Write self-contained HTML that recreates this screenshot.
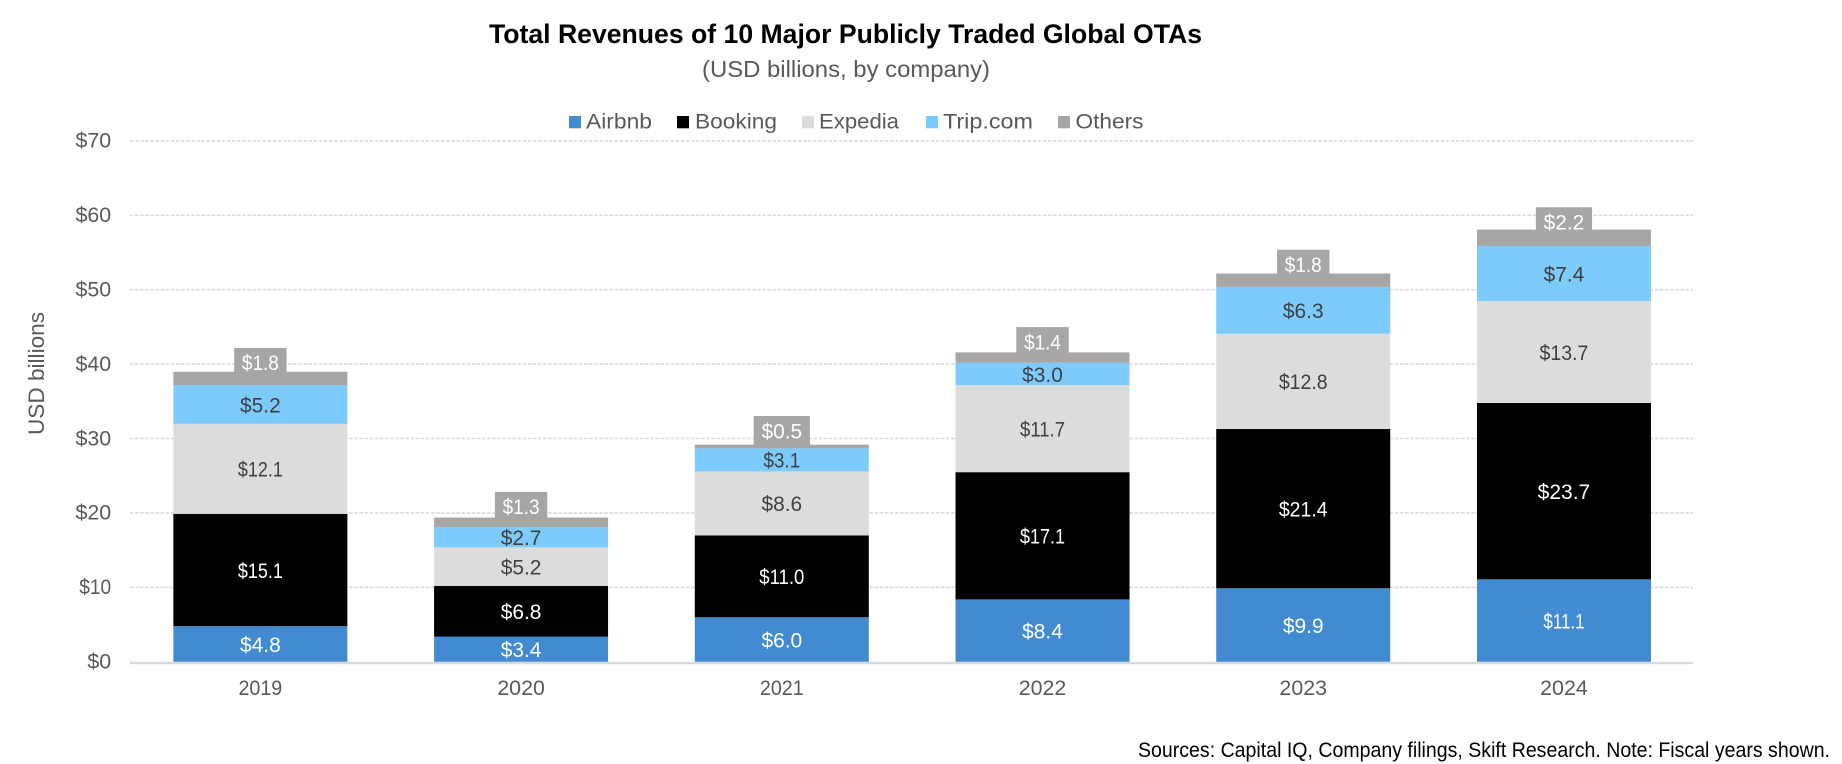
<!DOCTYPE html>
<html lang="en">
<head>
<meta charset="utf-8">
<title>Total Revenues of 10 Major Publicly Traded Global OTAs</title>
<style>
html,body{margin:0;padding:0;background:#fff;}
body{width:1842px;height:764px;overflow:hidden;}
svg{display:block;font-family:"Liberation Sans",sans-serif;}
</style>
</head>
<body>
<svg id="chart" width="1842" height="764" viewBox="0 0 1842 764" xmlns="http://www.w3.org/2000/svg">
  <rect x="0" y="0" width="1842" height="764" fill="#ffffff"/>
  <text x="489" y="43" font-size="27" font-weight="bold" fill="#000" textLength="713" lengthAdjust="spacingAndGlyphs">Total Revenues of 10 Major Publicly Traded Global OTAs</text>
  <text x="702" y="77" font-size="23" fill="#595959" textLength="288" lengthAdjust="spacingAndGlyphs">(USD billions, by company)</text>
  <text transform="translate(44,373.5) rotate(-90)" text-anchor="middle" font-size="22" fill="#595959" textLength="123" lengthAdjust="spacingAndGlyphs">USD billions</text>
  <g id="gridlines"></g>
  <g id="y-ticks"></g>
  <g id="bars"></g>
  <rect id="x-axis" x="130" y="661.8" width="1563" height="2.4" fill="#d9d9d9"/>
  <g id="x-ticks"></g>
  <g id="legend"></g>
  <text x="1138" y="757" font-size="21" fill="#000" textLength="692" lengthAdjust="spacingAndGlyphs">Sources: Capital IQ, Company filings, Skift Research. Note: Fiscal years shown.</text>
</svg>
<script>
const years = ['2019', '2020', '2021', '2022', '2023', '2024'];
const seriesNames = ['Airbnb', 'Booking', 'Expedia', 'Trip.com', 'Others'];
const airbnb = [4.8, 3.4, 6.0, 8.4, 9.9, 11.1];
const booking = [15.1, 6.8, 11.0, 17.1, 21.4, 23.7];
const expedia = [12.1, 5.2, 8.6, 11.7, 12.8, 13.7];
const tripcom = [5.2, 2.7, 3.1, 3.0, 6.3, 7.4];
const others = [1.8, 1.3, 0.5, 1.4, 1.8, 2.2];
const yTicks = [0, 10, 20, 30, 40, 50, 60, 70];

const NS = 'http://www.w3.org/2000/svg';
const seriesValues = [airbnb, booking, expedia, tripcom, others];
const fills = ['#428bd2', '#000000', '#dcdcdc', '#7dcbfc', '#a6a6a6'];
const labelFills = ['#ffffff', '#ffffff', '#404040', '#404040', '#ffffff'];
const plotLeft = 130, plotRight = 1693, baseY = 661.9, pxPerUnit = 7.44, barWidth = 174, bandWidth = 260.72;
const legendSwatchX = [569, 677, 802, 926, 1058];
const legendTextX = [586, 695, 819, 943, 1075.5];
const legendTextLen = [66, 82, 80, 90, 68];

function yScale(v) { return baseY - v * pxPerUnit; }
function xCenter(i) { return plotLeft + bandWidth * (i + 0.5); }
function mk(tag, attrs, parent) {
  const el = document.createElementNS(NS, tag);
  for (const k in attrs) el.setAttribute(k, attrs[k]);
  parent.appendChild(el);
  return el;
}
// Reference typeface has a narrow "1"; fit numeric strings to that width.
function numericWidth(str) {
  const ones = str.split('1').length - 1;
  const periods = str.indexOf('.') >= 0 ? 1 : 0;
  const digits = str.replace(/[^0-9$]/g, '').length;
  return digits * 11.9 + periods * 5 - ones * 3.8;
}

const gridGroup = document.getElementById('gridlines');
const yTickGroup = document.getElementById('y-ticks');
yTicks.forEach(function (t) {
  if (t > 0) {
    const line = mk('line', { x1: plotLeft, x2: plotRight, y1: yScale(t) - 0.2, y2: yScale(t) - 0.2, stroke: '#d9d9d9', 'stroke-width': 1.6, 'stroke-dasharray': '3.5 1.6' }, gridGroup);
    
    
  }
  const str = '$' + t;
  const label = mk('text', { x: 111.2, y: yScale(t) + 6.6, 'text-anchor': 'end', 'font-size': 21, fill: '#595959', textLength: numericWidth(str), lengthAdjust: 'spacingAndGlyphs' }, yTickGroup);
  
  
  label.textContent = str;
});

const barGroup = document.getElementById('bars');
const xTickGroup = document.getElementById('x-ticks');
years.forEach(function (year, i) {
  const cx = xCenter(i);
  let cum = 0;
  seriesValues.forEach(function (vals, s) {
    const v = vals[i];
    const top = yScale(cum + v);
    const bottom = yScale(cum);
    cum += v;
    const rect = mk('rect', { x: cx - barWidth / 2, y: top, width: barWidth, height: bottom - top, fill: fills[s] }, barGroup);
    
    
  });
});
years.forEach(function (year, i) {
  const cx = xCenter(i);
  let cum = 0;
  seriesValues.forEach(function (vals, s) {
    const v = vals[i];
    const mid = (yScale(cum) + yScale(cum + v)) / 2;
    cum += v;
    const isOthers = s === seriesValues.length - 1;
    const cy = isOthers ? mid - 15.5 : mid + 0.5;
    const str = '$' + v.toFixed(1);
    const w = numericWidth(str);
    if (isOthers) {
      const box = mk('rect', { x: cx - (w + 15.5) / 2, y: cy - 15, width: w + 15.5, height: 30, fill: fills[s] }, barGroup);
      
      
    }
    const text = mk('text', { x: cx, y: cy + 7.3, 'text-anchor': 'middle', 'font-size': 21, fill: labelFills[s], textLength: w, lengthAdjust: 'spacingAndGlyphs' }, barGroup);
    
    
    text.textContent = str;
  });
  const tick = mk('text', { x: cx, y: 695, 'text-anchor': 'middle', 'font-size': 21, fill: '#595959', textLength: numericWidth(year), lengthAdjust: 'spacingAndGlyphs' }, xTickGroup);
  
  
  tick.textContent = year;
});

const legendGroup = document.getElementById('legend');
seriesNames.forEach(function (name, s) {
  const swatch = mk('rect', { x: legendSwatchX[s], y: 116, width: 12, height: 12.3, fill: fills[s] }, legendGroup);
  
  
  const text = mk('text', { x: legendTextX[s], y: 128.6, 'font-size': 21, fill: '#595959', textLength: legendTextLen[s], lengthAdjust: 'spacingAndGlyphs' }, legendGroup);
  
  
  text.textContent = name;
});
</script>
</body>
</html>
